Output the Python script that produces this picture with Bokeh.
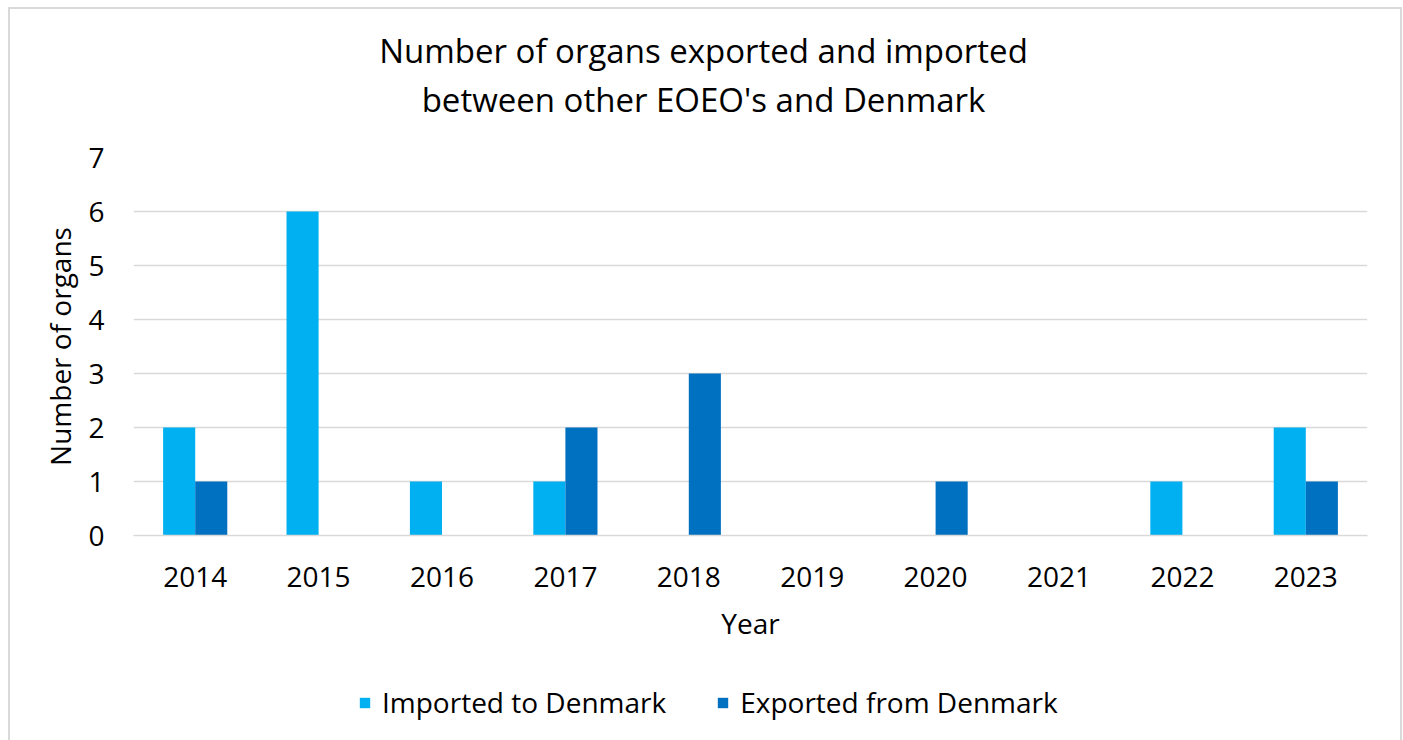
from bokeh.plotting import figure
from bokeh.models import ColumnDataSource, FactorRange, Legend, LegendItem, Label, SingleIntervalTicker, Range1d
from bokeh.layouts import column
from bokeh.transform import dodge
from bokeh.embed import file_html
from bokeh.resources import INLINE

years = ["2014", "2015", "2016", "2017", "2018", "2019", "2020", "2021", "2022", "2023"]
imported = [2, 6, 1, 1, 0, 0, 0, 0, 1, 2]
exported = [1, 0, 0, 2, 3, 0, 1, 0, 0, 1]
series_names = ["Imported to Denmark", "Exported from Denmark"]
title_lines = ["Number of organs exported and imported", "between other EOEO's and Denmark"]

FONT = "Open Sans"
LIGHT = "#00B0F0"
DARK = "#0070C0"
W = 1390


def strip(height):
    f = figure(width=W, height=height, output_backend="svg", toolbar_location=None,
               x_range=Range1d(0, 1), y_range=Range1d(0, 1), x_axis_type=None, y_axis_type=None,
               min_border_left=0, min_border_right=0, min_border_top=0, min_border_bottom=0)
    f.outline_line_color = None
    f.xgrid.visible = False
    f.ygrid.visible = False
    return f


# ---- title strip
top = strip(120)
for txt, yy in zip(title_lines, [79, 30]):
    top.add_layout(Label(x=570, y=yy, x_units="screen", y_units="screen", text=txt,
                         text_align="center", text_baseline="middle",
                         text_font=FONT, text_font_size="33px", text_color="#000000"))

# ---- main chart
src = ColumnDataSource(dict(years=years, imported=imported, exported=exported))
p = figure(x_range=FactorRange(*years), y_range=(0, 7), width=W, height=531,
           output_backend="svg", toolbar_location=None,
           min_border_left=123, min_border_right=33, min_border_top=28, min_border_bottom=125)
p.outline_line_color = None
p.border_fill_color = "white"
p.background_fill_color = "white"

bw = 0.26
r1 = p.vbar(x=dodge("years", -bw / 2, range=p.x_range), top="imported", width=bw, source=src,
            fill_color=LIGHT, line_color=None)
r2 = p.vbar(x=dodge("years", bw / 2, range=p.x_range), top="exported", width=bw, source=src,
            fill_color=DARK, line_color=None)

p.yaxis.ticker = SingleIntervalTicker(interval=1)
p.yaxis.axis_line_color = None
p.yaxis.major_tick_line_color = None
p.yaxis.minor_tick_line_color = None
p.yaxis.major_label_text_font = FONT
p.yaxis.major_label_text_font_size = "28px"
p.yaxis.major_label_text_color = "#000000"
p.yaxis.major_label_standoff = 23
p.yaxis.axis_label = "Number of organs"
p.yaxis.axis_label_text_font = FONT
p.yaxis.axis_label_text_font_size = "28px"
p.yaxis.axis_label_text_font_style = "normal"
p.yaxis.axis_label_text_color = "#000000"
p.yaxis.axis_label_standoff = 6

p.xaxis.axis_line_color = "#D9D9D9"
p.xaxis.axis_line_width = 1.5
p.xaxis.major_tick_line_color = None
p.xaxis.minor_tick_line_color = None
p.xaxis.major_label_text_font = FONT
p.xaxis.major_label_text_font_size = "28px"
p.xaxis.major_label_text_color = "#000000"
p.xaxis.major_label_standoff = 25
p.xaxis.axis_label = "Year"
p.xaxis.axis_label_text_font = FONT
p.xaxis.axis_label_text_font_size = "28px"
p.xaxis.axis_label_text_font_style = "normal"
p.xaxis.axis_label_text_color = "#000000"
p.xaxis.axis_label_standoff = 14

p.xgrid.grid_line_color = None
p.ygrid.grid_line_color = "#D9D9D9"
p.ygrid.grid_line_width = 1.5

# ---- legend strip
lg = strip(82)
swatch = ColumnDataSource(dict(x=[0.5], top=[0]))  # zero-height bars: used only for legend swatches
d1 = lg.vbar(x="x", top="top", width=0.1, source=swatch, fill_color=LIGHT, line_color=None)
d2 = lg.vbar(x="x", top="top", width=0.1, source=swatch, fill_color=DARK, line_color=None)
legend = Legend(items=[LegendItem(label=series_names[0], renderers=[d1]),
                       LegendItem(label=series_names[1], renderers=[d2])],
                orientation="horizontal", location=(225, 21),
                label_text_font=FONT, label_text_font_size="28px", label_text_color="#000000",
                glyph_width=13, glyph_height=13, spacing=50, label_standoff=11,
                border_line_color=None, background_fill_alpha=0, margin=0, padding=0)
lg.add_layout(legend, "center")

layout = column(top, p, lg, spacing=0,
                styles={"border": "2px solid #D9D9D9", "box-sizing": "border-box",
                        "margin-left": "8px", "margin-top": "7px"})

open("out.html", "w").write(file_html(layout, INLINE))
